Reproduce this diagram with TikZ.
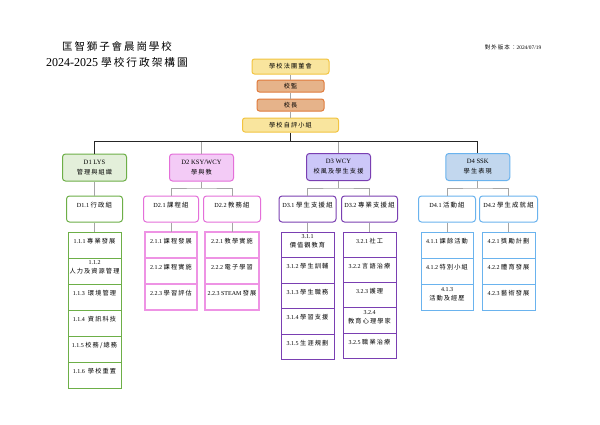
\documentclass[tikz,border=0pt]{standalone}
\usepackage{fontspec}
\setmainfont{Liberation Serif}
\newfontfamily\zhfont[LetterSpace=18,Scale=1.03]{Noto Sans CJK TC}
\newcommand{\zh}[1]{{\zhfont #1}}
\usetikzlibrary{positioning}
\definecolor{yfill}{HTML}{F9E59E}
\definecolor{ydraw}{HTML}{F2C440}
\definecolor{ofill}{HTML}{E6B38A}
\definecolor{odraw}{HTML}{E07B3C}
\definecolor{gfill}{HTML}{E3EFDA}
\definecolor{gdraw}{HTML}{6DAF47}
\definecolor{pfill}{HTML}{F3CBF6}
\definecolor{pdraw}{HTML}{E46FD9}
\definecolor{pcell}{HTML}{EE93E4}
\definecolor{vfill}{HTML}{CCC7F8}
\definecolor{vdraw}{HTML}{7A3FB2}
\definecolor{bfill}{HTML}{C2D7EE}
\definecolor{bdraw}{HTML}{6AB3EE}
\definecolor{lnk}{HTML}{A5A5A5}
\tikzset{%
  board/.style={draw=ydraw,fill=yfill,rounded corners=2.5pt,line width=1pt,
    minimum width=77pt,minimum height=15pt,inner sep=0pt,font=\fontsize{6}{7}\selectfont},
  head/.style={draw=odraw,fill=ofill,rounded corners=2.5pt,line width=1pt,
    minimum width=67pt,minimum height=12pt,inner sep=0pt,font=\fontsize{6}{7}\selectfont},
  dbox/.style 2 args={draw=#2,fill=#1,rounded corners=3pt,line width=1pt,
    minimum width=64pt,minimum height=27pt,inner sep=0pt,align=center,
    font=\fontsize{6.6}{10}\selectfont},
  subbox/.style={draw=#1,fill=white,rounded corners=3pt,line width=1pt,
    minimum width=56pt,minimum height=26pt,inner sep=0pt,
    text height=4.5pt,text depth=8.5pt,font=\fontsize{6.2}{7}\selectfont},
  cell/.style={draw=#1,line width=1pt,minimum width=53pt,minimum height=26pt,
    inner sep=0pt,outer sep=0pt,anchor=north},
  txt/.style={inner sep=0pt,align=center,font=\fontsize{6}{9}\selectfont},
  link/.style={draw=lnk,line width=0.8pt},
  bus/.style={draw=black!85,line width=1pt}
}
\begin{document}
\begin{tikzpicture}[x=1pt,y=-1pt]
  \fill[white] (0,0) rectangle (600,424);
  \useasboundingbox (0,0) rectangle (600,424);
  % title
  \node[inner sep=0pt] (name) at (117,46) {{\zhfont\fontsize{10.2}{12}\selectfont 匡智獅子會晨崗學校}};
  \node[inner sep=0pt,font=\fontsize{12}{14}\selectfont] (year) at (117,62)
    {2024-2025 {\zhfont\fontsize{10.4}{12}\selectfont 學校行政架構圖}};
  \node[inner sep=0pt,font=\fontsize{5.4}{7}\selectfont] (ver) at (513,47) {\zh{對外版本：}2024/07/19};
  % top
  \node[board] (trust) at (290.5,66.5) {\zh{學校法團董會}};
  \node[head] (sup) at (290.5,86) {\zh{校監}};
  \node[head] (prin) at (290.5,105) {\zh{校長}};
  \node[board,minimum width=96pt,minimum height=14pt] (sec) at (290.5,125) {\zh{學校自評小組}};
  \draw[link] (trust) -- (sup);
  \draw[link] (sup) -- (prin);
  \draw[link] (prin) -- (sec);
  % domains
  \node[dbox={gfill}{gdraw}] (D1) at (94.5,167.5) {D1 LYS\\{\fontsize{6}{10}\selectfont\zh{管理與組織}}};
  \node[dbox={pfill}{pdraw}] (D2) at (201.5,167.5) {D2 KSY/WCY\\{\fontsize{6}{10}\selectfont\zh{學與教}}};
  \node[dbox={vfill}{vdraw}] (D3) at (338.5,167) {D3 WCY\\{\fontsize{6}{10}\selectfont\zh{校風及學生支援}}};
  \node[dbox={bfill}{bdraw}] (D4) at (477.75,167) {D4 SSK\\{\fontsize{6}{10}\selectfont\zh{學生表現}}};
  \coordinate (hub) at (290.5,141.5);
  \draw[bus] (sec) -- (hub);
  \draw[bus] (D1) |- (hub) -| (D4);
  \draw[link] (D2) -- (D2 |- hub);
  \draw[link] (D3) -- (D3 |- hub);
  % groups
  \node[subbox=gdraw] (D11) at (94.5,209) {D1.1 \zh{行政組}};
  \node[subbox=pdraw,minimum width=55pt] (D21) at (171,209) {D2.1 \zh{課程組}};
  \node[subbox=pdraw,minimum width=57pt] (D22) at (232,209) {D2.2 \zh{教務組}};
  \node[subbox=vdraw,minimum width=57pt] (D31) at (307.5,209) {D3.1 \zh{學生支援組}};
  \node[subbox=vdraw] (D32) at (369.5,209) {D3.2 \zh{專業支援組}};
  \node[subbox=bdraw,minimum width=57pt] (D41) at (447,209) {D4.1 \zh{活動組}};
  \node[subbox=bdraw,minimum width=58pt] (D42) at (508.5,209) {D4.2 \zh{學生成就組}};
  \draw[link] (D1) -- (D11);
  \coordinate (d2bar) at (201.5,188);
  \coordinate (d3bar) at (338.5,188);
  \coordinate (d4bar) at (477.75,188);
  \draw[link] (D2) -- (d2bar);
  \draw[link] (D21) |- (d2bar) -| (D22);
  \draw[link] (D3) -- (d3bar);
  \draw[link] (D31) |- (d3bar) -| (D32);
  \draw[link] (D4) -- (d4bar);
  \draw[link] (D41) |- (d4bar) -| (D42);
  % D1 cells
  \node[cell=gdraw] (c111) at (94.5,232) {};
  \node[cell=gdraw,below=0pt of c111] (c112) {};
  \node[cell=gdraw,below=0pt of c112] (c113) {};
  \node[cell=gdraw,below=0pt of c113] (c114) {};
  \node[cell=gdraw,below=0pt of c114] (c115) {};
  \node[cell=gdraw,below=0pt of c115] (c116) {};
  \node[txt] (t111) at ([yshift=-9pt]c111.north) {1.1.1 \zh{專業發展}};
  \node[txt] (t112) at ([yshift=-9.5pt]c112.north) {1.1.2\\\zh{人力及資源管理}};
  \node[txt] (t113) at ([yshift=-9pt]c113.north) {1.1.3~~\zh{環境管理}};
  \node[txt] (t114) at ([yshift=-9pt]c114.north) {1.1.4~~\zh{資訊科技}};
  \node[txt] (t115) at ([yshift=-9pt]c115.north) {1.1.5 \zh{校務/總務}};
  \node[txt] (t116) at ([yshift=-9pt]c116.north) {1.1.6~~\zh{學校重置}};
  \draw[link] (D11) -- (c111);
  % D2 cells
  \node[cell=pcell,minimum width=52pt,line width=1.3pt] (c211) at (171,232) {};
  \node[cell=pcell,minimum width=52pt,line width=1.3pt,below=0pt of c211] (c212) {};
  \node[cell=pcell,minimum width=52pt,line width=1.3pt,below=0pt of c212] (c213) {};
  \node[cell=pcell,minimum width=54pt,line width=1.3pt] (c221) at (232,232) {};
  \node[cell=pcell,minimum width=54pt,line width=1.3pt,below=0pt of c221] (c222) {};
  \node[cell=pcell,minimum width=54pt,line width=1.3pt,below=0pt of c222] (c223) {};
  \node[txt] (t211) at ([yshift=-9pt]c211.north) {2.1.1 \zh{課程發展}};
  \node[txt] (t212) at ([yshift=-9pt]c212.north) {2.1.2 \zh{課程實施}};
  \node[txt] (t213) at ([yshift=-9pt]c213.north) {2.2.3 \zh{學習評估}};
  \node[txt] (t221) at ([yshift=-9pt]c221.north) {2.2.1 \zh{教學實施}};
  \node[txt] (t222) at ([yshift=-9pt]c222.north) {2.2.2 \zh{電子學習}};
  \node[txt] (t223) at ([yshift=-9pt]c223.north) {2.2.3 STEAM \zh{發展}};
  \draw[link] (D21) -- (c211);
  \draw[link] (D22) -- (c221);
  % D3 cells
  \node[cell=vdraw,minimum height=25.5pt] (c311) at (307.5,232) {};
  \node[cell=vdraw,minimum height=25.5pt,below=0pt of c311] (c312) {};
  \node[cell=vdraw,minimum height=25.5pt,below=0pt of c312] (c313) {};
  \node[cell=vdraw,minimum height=25.5pt,below=0pt of c313] (c314) {};
  \node[cell=vdraw,minimum height=25.5pt,below=0pt of c314] (c315) {};
  \node[cell=vdraw,minimum height=25.3pt] (c321) at (369.5,232) {};
  \node[cell=vdraw,minimum height=25.3pt,below=0pt of c321] (c322) {};
  \node[cell=vdraw,minimum height=25.3pt,below=0pt of c322] (c323) {};
  \node[cell=vdraw,minimum height=25.3pt,below=0pt of c323] (c324) {};
  \node[cell=vdraw,minimum height=25.3pt,below=0pt of c324] (c325) {};
  \node[txt] (t311) at ([yshift=-9.5pt]c311.north) {3.1.1\\\zh{價值觀教育}};
  \node[txt] (t312) at ([yshift=-9pt]c312.north) {3.1.2 \zh{學生訓輔}};
  \node[txt] (t313) at ([yshift=-9pt]c313.north) {3.1.3 \zh{學生職務}};
  \node[txt] (t314) at ([yshift=-9pt]c314.north) {3.1.4 \zh{學習支援}};
  \node[txt] (t315) at ([yshift=-9pt]c315.north) {3.1.5 \zh{生涯規劃}};
  \node[txt] (t321) at ([yshift=-9pt]c321.north) {3.2.1 \zh{社工}};
  \node[txt] (t322) at ([yshift=-9pt]c322.north) {3.2.2 \zh{言語治療}};
  \node[txt] (t323) at ([yshift=-9pt]c323.north) {3.2.3 \zh{護理}};
  \node[txt] (t324) at ([yshift=-9.5pt]c324.north) {3.2.4\\\zh{教育心理學家}};
  \node[txt] (t325) at ([yshift=-9pt]c325.north) {3.2.5 \zh{職業治療}};
  \draw[link] (D31) -- (c311);
  \draw[link] (D32) -- (c321);
  % D4 cells
  \node[cell=bdraw,minimum width=52pt] (c411) at (447,232) {};
  \node[cell=bdraw,minimum width=52pt,below=0pt of c411] (c412) {};
  \node[cell=bdraw,minimum width=52pt,below=0pt of c412] (c413) {};
  \node[cell=bdraw] (c421) at (508.5,232) {};
  \node[cell=bdraw,below=0pt of c421] (c422) {};
  \node[cell=bdraw,below=0pt of c422] (c423) {};
  \node[txt] (t411) at ([yshift=-9pt]c411.north) {4.1.1 \zh{課餘活動}};
  \node[txt] (t412) at ([yshift=-9pt]c412.north) {4.1.2 \zh{特別小組}};
  \node[txt] (t413) at ([yshift=-10pt]c413.north) {4.1.3\\\zh{活動及經歷}};
  \node[txt] (t421) at ([yshift=-9pt]c421.north) {4.2.1 \zh{獎勵計劃}};
  \node[txt] (t422) at ([yshift=-9pt]c422.north) {4.2.2 \zh{體育發展}};
  \node[txt] (t423) at ([yshift=-9pt]c423.north) {4.2.3 \zh{藝術發展}};
  \draw[link] (D41) -- (c411);
  \draw[link] (D42) -- (c421);
\end{tikzpicture}
\end{document}
